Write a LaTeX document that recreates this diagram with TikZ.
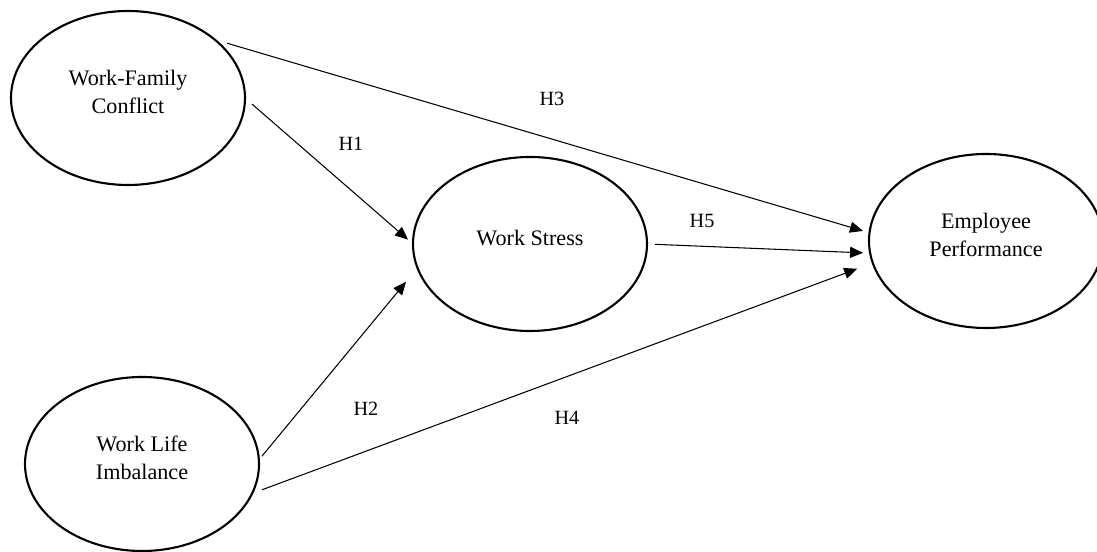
\documentclass[tikz,border=0pt]{standalone}
\usepackage{fontspec}
\setmainfont{Liberation Serif}
\usetikzlibrary{shapes,arrows.meta}

\begin{document}
\begin{tikzpicture}[
    construct/.style={ellipse, draw=black, line width=1.2pt, minimum width=4.68cm, minimum height=3.48cm, outer sep=0pt, align=center, text depth=7.4pt, font=\fontsize{12.6}{15.9}\selectfont},
    hlabel/.style={inner sep=1pt, font=\fontsize{11.5}{14}\selectfont},
    arrow/.style={->, line width=0.6pt, >={Triangle[length=7.4pt, width=6.3pt]}}
]
\clip (0,0) rectangle (21.94,11.04);

% Constructs
\node[construct] (wfc) at (2.56,9.08) {Work-Family\\Conflict};
\node[construct] (ws) at (10.60,6.16) {Work Stress};
\node[construct] (ep) at (19.72,6.22) {Employee\\Performance};
\node[construct] (wli) at (2.84,1.76) {Work Life\\Imbalance};

% Hypothesis labels
\node[hlabel] (h1) at (7.02,8.16) {H1};
\node[hlabel] (h2) at (7.32,2.86) {H2};
\node[hlabel] (h3) at (11.04,9.06) {H3};
\node[hlabel] (h4) at (11.34,2.68) {H4};
\node[hlabel] (h5) at (14.04,6.62) {H5};

% Paths
\draw[arrow, shorten <=0.26cm, shorten >=0.136cm] (wfc.34) -- (ep.176);
\draw[arrow, shorten <=0.186cm, shorten >=0.132cm] (wfc.0) -- (ws.180);
\draw[arrow, shorten <=0.16cm, shorten >=0.142cm] (ws.0) -- (ep.186);
\draw[arrow, shorten <=0.096cm, shorten >=0.36cm] (wli.2) -- (ws.192);
\draw[arrow, shorten <=0.214cm, shorten >=0.332cm] (wli.-15) -- (ep.191);

\end{tikzpicture}
\end{document}
